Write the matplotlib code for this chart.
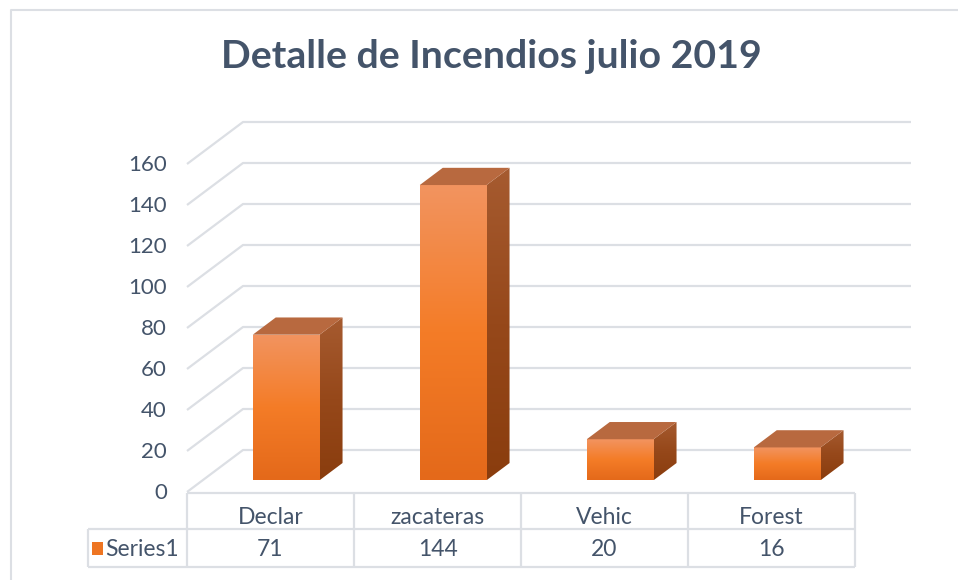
import matplotlib
matplotlib.use("Agg")
import matplotlib.pyplot as plt
import numpy as np
from matplotlib.patches import Polygon
from matplotlib.colors import LinearSegmentedColormap

# chart data
categories = ["Declar", "zacateras", "Vehic", "Forest"]
values = [71, 144, 20, 16]
series_name = "Series1"
yticks = [0, 20, 40, 60, 80, 100, 120, 140, 160]
title = "Detalle de Incendios julio 2019"

plt.rcParams['font.family'] = ['Lato', 'DejaVu Sans']
txt = "#44546A"
grid = "#DCDFE4"

fig = plt.figure(figsize=(9.58, 5.8), dpi=100)
ax = fig.add_axes([0, 0, 1, 1])
ax.set_xlim(0, 958)
ax.set_ylim(580, 0)
ax.axis("off")

# oblique projection: category units, value units, depth 0..1
X0, Y0 = 187, 492
CW = 167          # px per category
K = 2.05          # px per value unit
DX, DY = 56, -42  # back wall offset


def proj(c, v, d):
    return (X0 + c * CW + d * DX, Y0 - v * K + d * DY)


n = len(categories)

# chart border (left / top)
ax.plot([11, 11, 958], [580, 10, 10], color=grid, lw=1.5, solid_capstyle="butt")

# gridlines: side wall diagonal + back wall horizontal
for v in yticks:
    p0, p1, p2 = proj(0, v, 0), proj(0, v, 1), proj(n, v, 1)
    ax.plot([p0[0], p1[0], p2[0]], [p0[1], p1[1], p2[1]], color=grid, lw=1.6,
            solid_capstyle="butt", zorder=1)
    ax.text(p0[0] - 20, p0[1] + 1, str(v), ha="right", va="center", fontsize=16, color=txt)

front_cmap = LinearSegmentedColormap.from_list("f", ["#F29460", "#F47C27", "#E4691A"])
side_cmap = LinearSegmentedColormap.from_list("s", ["#A65B30", "#96481A", "#8A3D0E"])
top_col = "#B8693F"

hw = 0.2
d0, d1 = 0.28, 0.69
grad = np.linspace(0, 1, 256).reshape(-1, 1)

for i, v in enumerate(values):
    cl, cr = i + 0.5 - hw, i + 0.5 + hw
    # front face
    fl_b, fr_b = proj(cl, 0, d0), proj(cr, 0, d0)
    fl_t, fr_t = proj(cl, v, d0), proj(cr, v, d0)
    poly = Polygon([fl_b, fr_b, fr_t, fl_t], closed=True, facecolor="none", edgecolor="none")
    ax.add_patch(poly)
    im = ax.imshow(grad, cmap=front_cmap, aspect="auto",
                   extent=[fl_b[0], fr_b[0], fl_b[1], fl_t[1]], zorder=3)
    im.set_clip_path(poly)
    # side face
    br_b, br_t = proj(cr, 0, d1), proj(cr, v, d1)
    side = Polygon([fr_b, br_b, br_t, fr_t], closed=True, facecolor="none", edgecolor="none")
    ax.add_patch(side)
    im2 = ax.imshow(grad, cmap=side_cmap, aspect="auto",
                    extent=[fr_b[0], br_b[0], fr_b[1], br_t[1]], zorder=3)
    im2.set_clip_path(side)
    # top face
    bl_t = proj(cl, v, d1)
    ax.add_patch(Polygon([fl_t, fr_t, br_t, bl_t], closed=True, facecolor=top_col,
                         edgecolor="none", zorder=4))

# data table
row0, row1, row2 = 493, 529, 567
left = 88
xs = [X0 + c * CW for c in range(n + 1)]
tkw = dict(color=grid, lw=1.6, solid_capstyle="butt", zorder=2)
ax.plot([xs[0], xs[-1]], [row0, row0], **tkw)
ax.plot([left, xs[-1]], [row1, row1], **tkw)
ax.plot([left, xs[-1]], [row2, row2], **tkw)
ax.plot([left, left], [row1, row2], **tkw)
for x in xs:
    ax.plot([x, x], [row0, row2], **tkw)
for i, (c, v) in enumerate(zip(categories, values)):
    cx = (xs[i] + xs[i + 1]) / 2
    ax.text(cx, 517, c, ha="center", va="center", fontsize=16.5, color=txt)
    ax.text(cx, 549, str(v), ha="center", va="center", fontsize=16.5, color=txt)
ax.add_patch(plt.Rectangle((92, 542), 11, 13, facecolor="#EE7522", edgecolor="none"))
ax.text(105, 549, series_name, ha="left", va="center", fontsize=16.5, color=txt)

ax.text(491, 57, title, ha="center", va="center", fontsize=28.3, fontweight="bold", color=txt)

fig.savefig("out.png", dpi=100)
